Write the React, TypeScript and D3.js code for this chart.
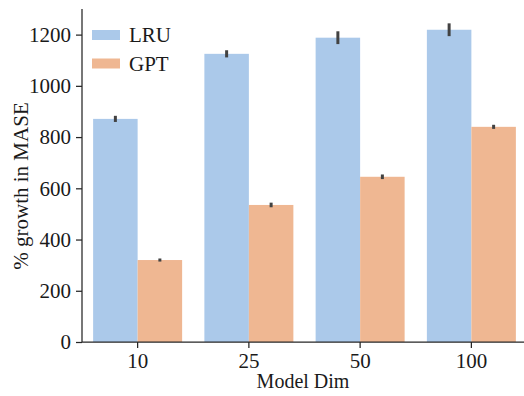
import { useEffect, useRef } from "react";
import * as d3 from "d3";

const categories = ["10", "25", "50", "100"];
const seriesNames = ["LRU", "GPT"];
const lruValues = [871, 1125, 1188, 1219];
const lruErr = [12, 14, 25, 25];
const gptValues = [320, 535, 645, 840];
const gptErr = [6, 9, 9, 8];
const yTicks = [0, 200, 400, 600, 800, 1000, 1200];

const colors = ["#abc9ea", "#efb792"];
const font = "'Liberation Serif', 'DejaVu Serif', serif";

export default function App() {
  const svgRef = useRef<SVGSVGElement>(null);

  useEffect(() => {
    const width = 524;
    const height = 396;
    const margin = { top: 9, right: -3, bottom: 54, left: 82 };
    const innerW = width - margin.left - margin.right;
    const innerH = height - margin.top - margin.bottom;

    const svg = d3.select(svgRef.current).attr("width", width).attr("height", height);
    svg.selectAll("*").remove();
    const g = svg.append("g").attr("transform", `translate(${margin.left},${margin.top})`);

    const x = d3.scaleBand<string>().domain(categories).range([0, innerW]).paddingInner(0.2).paddingOuter(0.1);
    const xs = d3.scaleBand<string>().domain(seriesNames).range([0, x.bandwidth()]);
    const y = d3.scaleLinear().domain([0, 1300]).range([innerH, 0]);

    const series = [
      { name: seriesNames[0], values: lruValues, err: lruErr, color: colors[0] },
      { name: seriesNames[1], values: gptValues, err: gptErr, color: colors[1] },
    ];

    series.forEach((s) => {
      const bars = g.append("g");
      categories.forEach((c, i) => {
        const bx = x(c)! + xs(s.name)!;
        bars
          .append("rect")
          .attr("x", bx)
          .attr("y", y(s.values[i]))
          .attr("width", xs.bandwidth())
          .attr("height", innerH - y(s.values[i]))
          .attr("fill", s.color);
      });
    });

    // error bars drawn above all bars
    series.forEach((s) => {
      categories.forEach((c, i) => {
        const cx = x(c)! + xs(s.name)! + xs.bandwidth() / 2;
        g.append("line")
          .attr("x1", cx)
          .attr("x2", cx)
          .attr("y1", y(s.values[i] - s.err[i]))
          .attr("y2", y(s.values[i] + s.err[i]))
          .attr("stroke", "#424242")
          .attr("stroke-width", 3);
      });
    });

    // y axis
    const yAxis = g
      .append("g")
      .call(d3.axisLeft(y).tickValues(yTicks).tickFormat(d3.format("d")).tickSize(6).tickPadding(5));
    yAxis.select(".domain").attr("stroke", "#262626").attr("stroke-width", 1.25).attr("d", `M0,${innerH}V0`);
    yAxis.selectAll("line").attr("stroke", "#262626").attr("stroke-width", 1.25);
    yAxis.selectAll("text").style("font-family", font).style("font-size", "21px").attr("fill", "#1a1a1a");

    // x axis
    const xAxis = g
      .append("g")
      .attr("transform", `translate(0,${innerH})`)
      .call(d3.axisBottom(x).tickSize(6).tickPadding(5));
    xAxis.select(".domain").attr("stroke", "#262626").attr("stroke-width", 1.25).attr("d", `M0,0H${innerW}`);
    xAxis.selectAll("line").attr("stroke", "#262626").attr("stroke-width", 1.25);
    xAxis.selectAll("text").style("font-family", font).style("font-size", "21px").attr("fill", "#1a1a1a");

    // axis labels
    svg
      .append("text")
      .attr("x", margin.left + (width - margin.left) / 2)
      .attr("y", 388)
      .attr("text-anchor", "middle")
      .style("font-family", font)
      .style("font-size", "20px")
      .attr("fill", "#1a1a1a")
      .text("Model Dim");

    svg
      .append("text")
      .attr("transform", `translate(28,186) rotate(-90)`)
      .attr("text-anchor", "middle")
      .style("font-family", font)
      .style("font-size", "21px")
      .attr("fill", "#1a1a1a")
      .text("% growth in MASE");

    // legend
    const legend = svg.append("g").attr("transform", "translate(92,30)");
    seriesNames.forEach((name, i) => {
      const row = legend.append("g").attr("transform", `translate(0,${i * 28.5})`);
      row.append("rect").attr("width", 28).attr("height", 10).attr("fill", colors[i]);
      row
        .append("text")
        .attr("x", 37)
        .attr("y", 12)
        .style("font-family", font)
        .style("font-size", "21px")
        .attr("fill", "#1a1a1a")
        .text(name);
    });
  }, []);

  return (
    <div style={{ position: "absolute", left: 0, top: 0 }}>
      <svg ref={svgRef} />
    </div>
  );
}
